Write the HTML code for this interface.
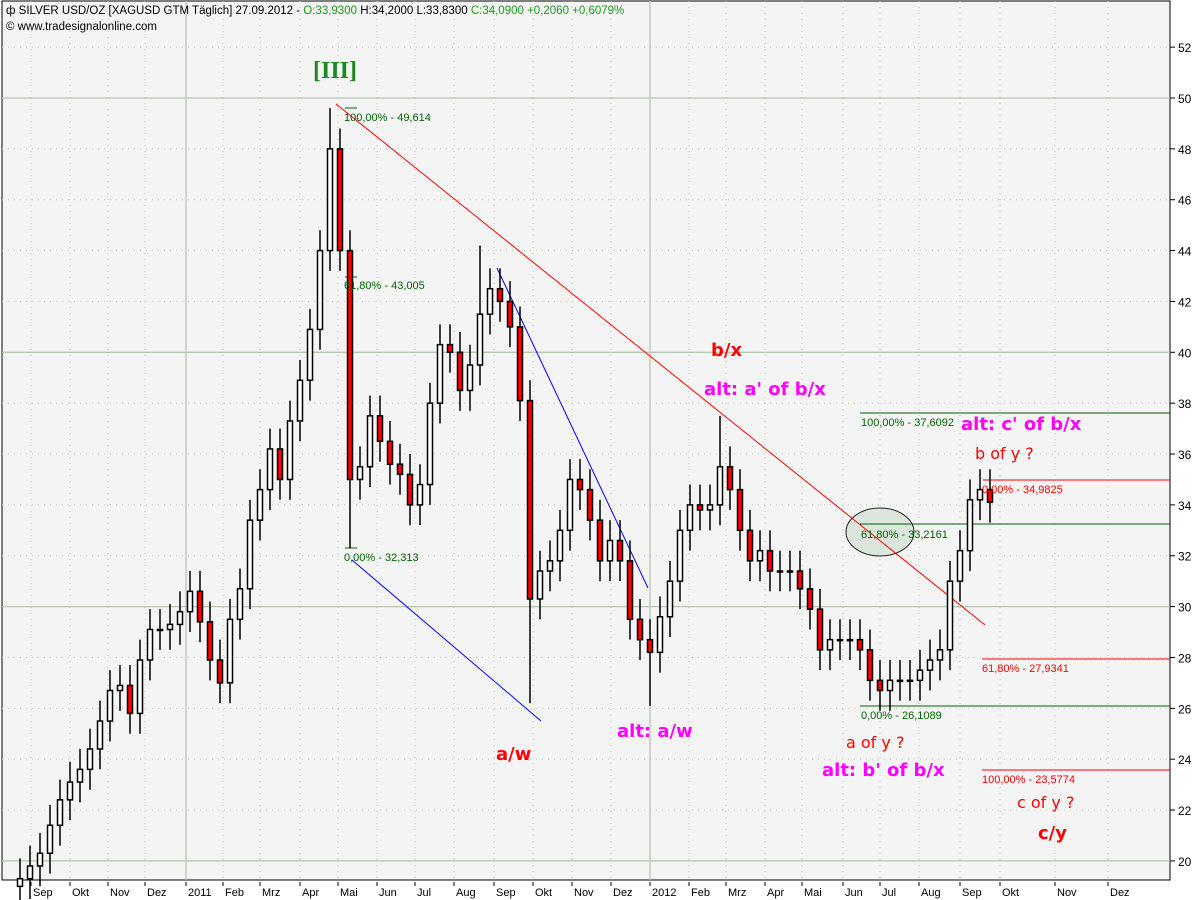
<!DOCTYPE html>
<html><head><meta charset="utf-8"><style>
html,body{margin:0;padding:0;background:#fff;}
svg{display:block;font-family:"Liberation Sans","DejaVu Sans",sans-serif;}
.fib{font-size:11px;}
.big{font-family:"DejaVu Sans","Liberation Sans",sans-serif;font-weight:bold;font-size:18px;}
.mid{font-family:"DejaVu Sans","Liberation Sans",sans-serif;font-size:16px;}
</style></head><body>
<svg id="chart" width="1200" height="900" viewBox="0 0 1200 900">
<rect x="0" y="0" width="1200" height="900" fill="#ffffff"/>
<rect x="2" y="1" width="1168" height="879" fill="#f4f4f4" stroke="#000" stroke-width="1"/>
<g id="grid"></g>
<g id="yaxis"></g>
<g id="xaxis"></g>
<g id="drawings"></g>
<g id="candles"></g>
<g id="notes"></g>
<text x="6" y="14" font-size="11.5"><tspan>ф SILVER USD/OZ [XAGUSD GTM  Täglich] 27.09.2012 - </tspan><tspan fill="#1a9a1a">O:33,9300 </tspan><tspan>H:34,2000 L:33,8300 </tspan><tspan fill="#1a9a1a">C:34,0900 +0,2060 +0,6079%</tspan></text>
<text x="6" y="30" font-size="11.5">© www.tradesignalonline.com</text>
</svg>
<script>
const yTicks=[20,22,24,26,28,30,32,34,36,38,40,42,44,46,48,50,52];
const monthLabels=["Sep","Okt","Nov","Dez","2011","Feb","Mrz","Apr","Mai","Jun","Jul","Aug","Sep","Okt","Nov","Dez","2012","Feb","Mrz","Apr","Mai","Jun","Jul","Aug","Sep","Okt","Nov","Dez"];
const monthTickX=[31,70,108,145,186,223,260,300,338,377,415,454,494,533,572,611,650,689,726,765,802,843,880,919,960,1000,1055,1108];
const closes=[19.3,19.8,20.3,21.4,22.4,23.1,23.6,24.4,25.5,26.7,26.9,25.8,27.9,29.1,29.1,29.3,29.8,30.6,29.4,27.9,27.0,29.5,30.7,33.4,34.6,36.2,35.0,37.3,38.9,40.9,44.0,48.0,44.0,35.0,35.5,37.5,36.5,35.6,35.2,34.0,34.8,38.0,40.3,40.0,38.5,39.5,41.5,42.5,42.0,41.0,38.1,30.3,31.4,31.8,33.0,35.0,34.6,33.4,31.8,32.6,31.8,29.5,28.7,28.2,29.6,31.0,33.0,34.0,33.8,34.0,35.5,34.6,33.0,31.8,32.2,31.4,31.4,31.4,30.7,29.9,28.3,28.7,28.7,28.7,28.3,27.1,26.7,27.1,27.1,27.1,27.5,27.9,28.3,31.0,32.2,34.2,34.6,34.1];
const spikeIdx=[31,33,46,51,63,70,86,96];
const spikeVal=[49.6,32.3,44.2,26.2,26.1,37.5,26.1,35.2];
const NS="http://www.w3.org/2000/svg";
const y=p=>98+(50-p)*25.43;
const x=i=>20+i*10;
function mk(tag,attrs,parent,text){const e=document.createElementNS(NS,tag);for(const k in attrs)e.setAttribute(k,attrs[k]);if(text!==undefined)e.textContent=text;parent.appendChild(e);return e;}
const grid=document.getElementById('grid'),ya=document.getElementById('yaxis'),xa=document.getElementById('xaxis');
yTicks.forEach(t=>{
 const yy=y(t);
 const solid=t%10===0;
 const gl=mk('line',{x1:2,x2:1170,y1:yy,y2:yy,stroke:solid?'#b4c8ac':'#b8ccb0','stroke-dasharray':solid?'none':'1 5','stroke-width':solid?1.3:1},grid);
 
 
 mk('line',{x1:1170,x2:1175,y1:yy,y2:yy,stroke:'#000'},ya);
 const tl=mk('text',{x:1178,y:yy+5,'font-size':12},ya,String(t));
 
 
});
monthLabels.forEach((m,i)=>{
 const xx=monthTickX[i];
 const yr=m==="2011"||m==="2012";
 const gl=mk('line',{x1:xx,x2:xx,y1:1,y2:880,stroke:yr?'#b4c8ac':'#b8ccb0','stroke-dasharray':yr?'none':'1 5','stroke-width':yr?1.3:1},grid);
 
 
 mk('line',{x1:xx,x2:xx,y1:882,y2:886,stroke:'#000'},xa);
 const tl=mk('text',{x:xx+2,y:896,'font-size':11},xa,m);
 
 
});
const cg=document.getElementById('candles');
closes.forEach((c,i)=>{
 const o=i===0?c-0.3:closes[i-1];
 let hi=Math.max(o,c)+0.8,lo=Math.min(o,c)-0.8;
 const si=spikeIdx.indexOf(i);
 if(si>=0){const v=spikeVal[si];if(v>hi)hi=v;if(v<lo)lo=v;}
 const g=mk('g',{},cg);
 
 
 mk('line',{x1:x(i),x2:x(i),y1:y(hi),y2:y(lo),stroke:'#000','stroke-width':1.5},g);
 const top=y(Math.max(o,c)),bot=y(Math.min(o,c));
 mk('rect',{x:x(i)-2.5,y:top,width:5,height:Math.max(1,bot-top),fill:c<o?'#ff0000':'#ffffff',stroke:'#000','stroke-width':1.5},g);
});
</script>
<script>
(function(){
const NS="http://www.w3.org/2000/svg";
const d=document.getElementById('drawings'),n=document.getElementById('notes');
function L(x1,y1,x2,y2,c,name){const e=document.createElementNS(NS,'line');e.setAttribute('x1',x1);e.setAttribute('y1',y1);e.setAttribute('x2',x2);e.setAttribute('y2',y2);e.setAttribute('stroke',c);e.setAttribute('stroke-width',1);


d.appendChild(e);}
function T(x,y,txt,c,cls,name,par){const e=document.createElementNS(NS,'text');e.setAttribute('x',x);e.setAttribute('y',y);e.setAttribute('fill',c);e.setAttribute('class',cls);e.textContent=txt;


(par||n).appendChild(e);}
const el=document.createElementNS(NS,'ellipse');el.setAttribute('cx',880);el.setAttribute('cy',532);el.setAttribute('rx',34);el.setAttribute('ry',24);el.setAttribute('fill','#dde6dc');el.setAttribute('stroke','#222');


d.appendChild(el);
L(336,104,985,625,'#ff0000','red-trendline');
L(352,560,541,721,'#0000ff','blue-lower-trendline');
L(497,268,648,588,'#0000ff','blue-upper-trendline');
L(345,108,357,108,'#006400','fib-100-tick');
L(345,277,357,277,'#006400','fib-618-tick');
L(345,548,357,548,'#006400','fib-0-tick');
L(860,413,1170,413,'#006400','fib-line-37-6092');
L(983,480,1170,480,'#ff0000','fib-line-34-9825');
L(860,524,1170,524,'#006400','fib-line-33-2161');
L(982,659,1170,659,'#ff0000','fib-line-27-9341');
L(860,706,1170,706,'#006400','fib-line-26-1089');
L(982,770,1170,770,'#ff0000','fib-line-23-5774');
const G='#006400',R='#ff0000',M='#ff00ff';
T(344,121,'100,00% - 49,614',G,'fib','fib-label-49-614');
T(344,289,'61,80% - 43,005',G,'fib','fib-label-43-005');
T(344,561,'0,00% - 32,313',G,'fib','fib-label-32-313');
T(861,426,'100,00% - 37,6092',G,'fib','fib-label-37-6092');
T(982,493,'0,00% - 34,9825',R,'fib','fib-label-34-9825');
T(861,538,'61,80% - 33,2161',G,'fib','fib-label-33-2161');
T(982,672,'61,80% - 27,9341',R,'fib','fib-label-27-9341');
T(861,719,'0,00% - 26,1089',G,'fib','fib-label-26-1089');
T(982,783,'100,00% - 23,5774',R,'fib','fib-label-23-5774');
const iii=document.createElementNS(NS,'text');iii.setAttribute('x',313);iii.setAttribute('y',78);iii.setAttribute('fill','#1a8a1a');iii.setAttribute('font-family','"Liberation Serif",serif');iii.setAttribute('font-weight','bold');iii.setAttribute('font-size','24');iii.textContent='[III]';


n.appendChild(iii);
T(711,356,'b/x',R,'big','wave-bx-label');
T(704,395,"alt: a' of b/x",M,'big','alt-a-of-bx-label');
T(961,430,"alt: c' of b/x",M,'big','alt-c-of-bx-label');
T(975,459,'b of y ?',R,'mid','b-of-y-label');
T(496,760,'a/w',R,'big','wave-aw-label');
T(617,737,'alt: a/w',M,'big','alt-aw-label');
T(846,748,'a of y ?',R,'mid','a-of-y-label');
T(822,776,"alt: b' of b/x",M,'big','alt-b-of-bx-label');
T(1017,808,'c of y ?',R,'mid','c-of-y-label');
T(1038,839,'c/y',R,'big','wave-cy-label');
})();
</script>
</body></html>
